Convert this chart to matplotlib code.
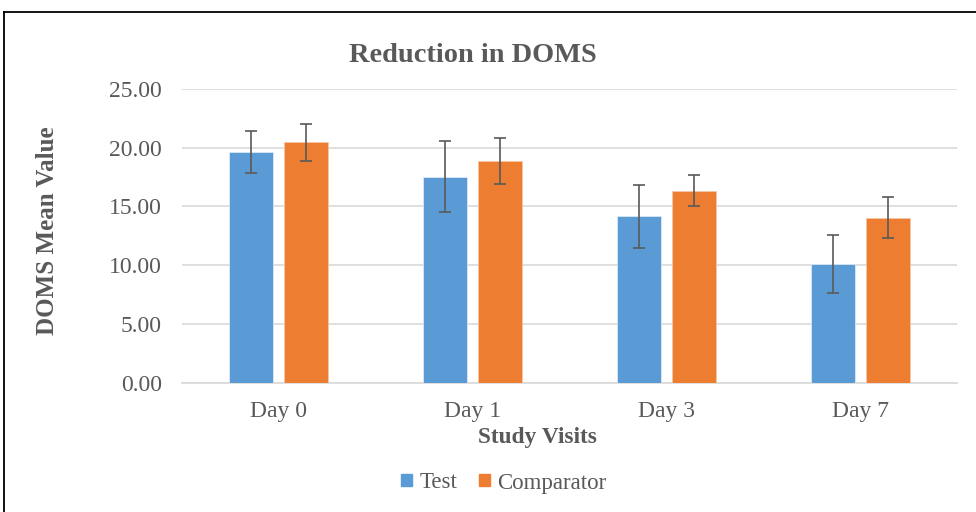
import matplotlib
matplotlib.use("Agg")
import matplotlib.pyplot as plt
from matplotlib.lines import Line2D
from matplotlib.patches import Patch
import numpy as np

categories = ["Day 0", "Day 1", "Day 3", "Day 7"]
test_values = [19.65, 17.55, 14.15, 10.10]
test_errors = [1.78, 3.00, 2.70, 2.45]
comp_values = [20.45, 18.85, 16.35, 14.05]
comp_errors = [1.55, 1.95, 1.32, 1.77]
yticks = [0, 5, 10, 15, 20, 25]

plt.rcParams['font.family'] = ['Liberation Serif', 'DejaVu Serif']

blue = "#5B9BD5"
orange = "#ED7D31"
gray = "#595959"

fig = plt.figure(figsize=(9.76, 5.12), dpi=100)
ax = fig.add_axes([182/976, 1-382.7/512, 775/976, (382.7-89)/512])

x = np.arange(len(categories))
w = 0.227
off = 0.1425
ekw = dict(ecolor=gray, elinewidth=1.2, capsize=4.3, capthick=1.2)
ax.bar(x - off, test_values, w, color=blue, edgecolor="#DCE8F5", linewidth=0.6,
       yerr=test_errors, error_kw=ekw, label="Test", zorder=3)
ax.bar(x + off, comp_values, w, color=orange, edgecolor="#F6C6A6", linewidth=0.6,
       yerr=comp_errors, error_kw=ekw, label="Comparator", zorder=3)

ax.set_xlim(-0.5, len(categories) - 0.5)
ax.set_ylim(0, 25)
ax.set_yticks(yticks)
ax.set_yticklabels([f"{v:.2f}" for v in yticks])
ax.set_xticks(x)
ax.set_xticklabels(categories)
ax.tick_params(axis='both', length=0, labelsize=17, colors=gray)
ax.tick_params(axis='y', pad=14.4)
ax.tick_params(axis='x', pad=13)
ax.grid(axis='y', color="#D9D9D9", linewidth=1.2, zorder=0)
for s in ["top", "right", "left"]:
    ax.spines[s].set_visible(False)
ax.spines["bottom"].set_color("#D9D9D9")
ax.spines["bottom"].set_linewidth(1.2)

fig.text(473/976, 1-55/512, "Reduction in DOMS", ha="center", va="center",
         fontsize=20.4, fontweight="bold", color=gray)
fig.text(48/976, 1-231/512, "DOMS Mean Value", ha="center", va="center",
         rotation=90, fontsize=18, fontweight="bold", color=gray)
fig.text(537/976, 1-438/512, "Study Visits", ha="center", va="center",
         fontsize=16.8, fontweight="bold", color=gray)

handles = [Patch(color=blue), Patch(color=orange)]
leg = fig.legend(handles, ["Test", "Comparator"], loc="center",
                 bbox_to_anchor=(504/976, 1-483/512), ncol=2, frameon=False,
                 fontsize=16.5, handlelength=0.45, handleheight=0.45,
                 handletextpad=0.35, columnspacing=0.95)
for t in leg.get_texts():
    t.set_color(gray)

# outer frame border
fig.add_artist(Line2D([4/976, 4/976], [0, 1-11.5/512], color="black", linewidth=1.3,
                      transform=fig.transFigure))
fig.add_artist(Line2D([4/976, 1], [1-11.5/512, 1-11.5/512], color="black", linewidth=1.3,
                      transform=fig.transFigure))

fig.savefig("out.png", dpi=100)
